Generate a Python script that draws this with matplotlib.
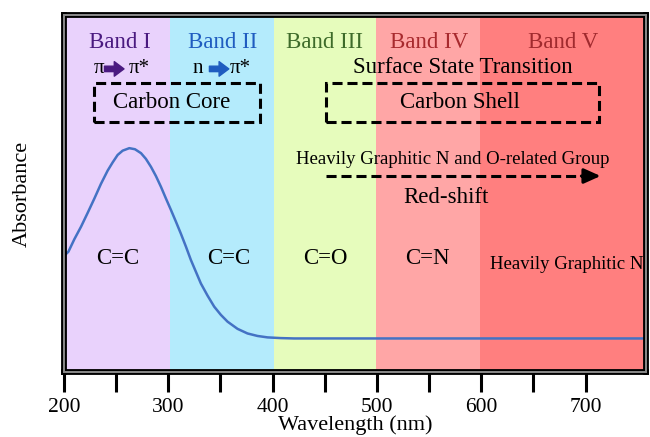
import matplotlib
matplotlib.use("Agg")
import matplotlib.pyplot as plt
from matplotlib.patches import Rectangle

plt.rcParams["font.family"] = ["Liberation Serif", "DejaVu Serif"]

# UV-vis absorbance trace (arb. units)
wavelength = [200, 204.2, 209.9, 216.3, 222.7, 229.1, 235.4, 241.8, 246.6,
              251.4, 256.2, 262.6, 268.0, 273.8, 278.5, 283.3, 288.1, 292.9,
              297.7, 302.5, 307.3, 312.1, 316.9, 321.6, 326.4, 331.2, 337.6,
              344.0, 350.4, 356.8, 366.3, 375.9, 385.5, 395.1, 407.9, 420.6,
              500, 600, 700, 758]
absorbance = [0.325, 0.337, 0.372, 0.407, 0.446, 0.486, 0.527, 0.564, 0.587,
              0.608, 0.620, 0.627, 0.624, 0.613, 0.597, 0.575, 0.549, 0.519,
              0.486, 0.454, 0.421, 0.387, 0.351, 0.314, 0.281, 0.248, 0.214,
              0.183, 0.160, 0.141, 0.121, 0.108, 0.101, 0.097, 0.095, 0.094,
              0.094, 0.094, 0.094, 0.094]

band_edges = [200, 302, 401, 499, 599, 758]
band_names = ["Band I", "Band II", "Band III", "Band IV", "Band V"]
band_label_x = [253.6, 352.3, 449.5, 549.6, 678.4]
bond_names = ["C=C", "C=C", "C=O", "C=N", "Heavily Graphitic N"]
bond_label_x = [251.4, 358.3, 451, 548.7, 681.8]

band_fill = ["#e9d2fc", "#b4ebfc", "#e6fcbc", "#ffa6a6", "#ff7f7f"]
band_text = ["#4a1a80", "#1f5cc0", "#3e6b2a", "#a82a2e", "#a02a2e"]

fig = plt.figure(figsize=(6.5, 4.37), dpi=100)
ax = fig.add_axes([0.0985, 0.1487, 0.8954, 0.817])

for i in range(len(band_names)):
    ax.axvspan(band_edges[i], band_edges[i + 1], color=band_fill[i], lw=0, zorder=0)
    ax.text(band_label_x[i], 0.924, band_names[i], color=band_text[i],
            fontsize=16.5, ha="center", va="center")
    size = 13.5 if len(bond_names[i]) > 5 else 16.5
    y = 0.300 if len(bond_names[i]) > 5 else 0.318
    ax.text(bond_label_x[i], y, bond_names[i], fontsize=size,
            ha="center", va="center")

ax.plot(wavelength, absorbance, color="#4472c4", lw=1.8, zorder=2)

# transitions
def trans(x0, a0, a1, x1, sym, arrow_col):
    ax.text(x0, 0.849, sym, fontsize=15, ha="center", va="center")
    ax.annotate("", xy=(a1, 0.849), xytext=(a0, 0.849),
                arrowprops=dict(arrowstyle="simple,head_length=0.5,head_width=0.75,tail_width=0.28",
                                color=arrow_col, shrinkA=0, shrinkB=0, mutation_scale=14))
    ax.text(x1, 0.849, "π*", fontsize=15, ha="center", va="center")

trans(233.5, 238.8, 257.5, 271.8, "π", "#4a1a80")
trans(328.4, 339.4, 358.0, 368.6, "n", "#1f5cc0")

ax.text(582.2, 0.852, "Surface State Transition", fontsize=16.5, ha="center", va="center")

box_style = dict(fill=False, ec="black", lw=2.2, ls=(0, (3.3, 1.6)), zorder=3)
ax.add_patch(Rectangle((228.7, 0.700), 387.7 - 228.7, 0.110, **box_style))
ax.add_patch(Rectangle((451.0, 0.700), 712.5 - 451.0, 0.110, **box_style))
ax.text(303, 0.754, "Carbon Core", fontsize=16.5, ha="center", va="center")
ax.text(579.3, 0.754, "Carbon Shell", fontsize=16.5, ha="center", va="center")

ax.text(572.6, 0.594, "Heavily Graphitic N and O-related Group", fontsize=13.5,
        ha="center", va="center")
ax.plot([451, 698], [0.549, 0.549], color="black", lw=2.2, ls=(0, (3.3, 1.6)))
ax.annotate("", xy=(714.4, 0.549), xytext=(696, 0.549),
            arrowprops=dict(arrowstyle="-|>,head_length=1.0,head_width=0.45",
                            color="black", lw=2.2, shrinkA=0, shrinkB=0))
ax.text(565.9, 0.490, "Red-shift", fontsize=16.5, ha="center", va="center")

ax.set_xlim(200, 758)
ax.set_ylim(0, 1)
ax.set_xticks([200, 300, 400, 500, 600, 700])
ax.set_xticks([250, 350, 450, 550, 650], minor=True)
ax.set_yticks([])
ax.tick_params(axis="x", which="both", direction="out", length=14.4, width=2.2,
               labelsize=15.5, pad=4, color="black")

for s in ax.spines.values():
    s.set_linewidth(4.2)
    s.set_color("black")
ax.add_patch(Rectangle((0, 0), 1, 1, transform=ax.transAxes, fill=False,
                       ec="#8a8a8a", lw=1.4, clip_on=False, zorder=3))

ax.set_xlabel("Wavelength (nm)", fontsize=16)
ax.xaxis.set_label_coords(0.5, -0.122)
ax.set_ylabel("Absorbance", fontsize=16)
ax.yaxis.set_label_coords(-0.055, 0.5)

fig.savefig("out.png", dpi=100)
